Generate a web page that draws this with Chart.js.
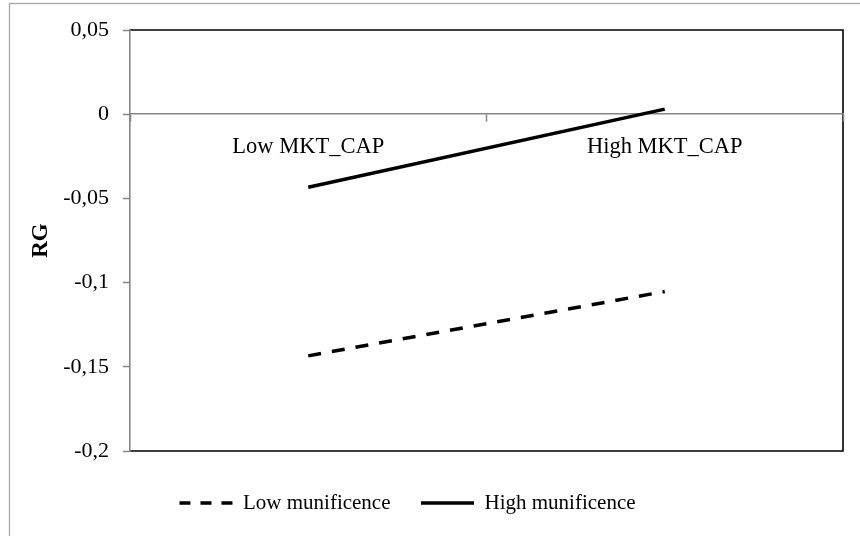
<!DOCTYPE html>
<html>
<head>
<meta charset="utf-8">
<script src="https://cdn.jsdelivr.net/npm/chart.js@4.4.1/dist/chart.umd.min.js"></script>
<style>
  html, body { margin: 0; padding: 0; background: #ffffff; }
  #wrap { width: 860px; height: 536px; }
</style>
</head>
<body>
<div id="wrap"><canvas id="chart" width="860" height="536"></canvas></div>
<script>
// Categories along the horizontal axis
const categories = ['Low MKT_CAP', 'High MKT_CAP'];

// Series values (RG)
const lowMunificence = [-0.1435, -0.1053];
const highMunificence = [-0.0434, 0.003];

// Series names
const seriesNames = ['Low munificence', 'High munificence'];

// Vertical axis range and step
const yMin = -0.2;
const yMax = 0.05;
const yStep = 0.05;

const AXIS_GREY = '#868686';
const SERIF = '"Liberation Serif", "Times New Roman", serif';

Chart.defaults.font.family = SERIF;
Chart.defaults.color = '#000000';

// Outer frame and the dark border round the plot area
const framePlugin = {
  id: 'frame',
  beforeDraw(chart) {
    const { ctx, chartArea: a } = chart;
    ctx.save();
    ctx.fillStyle = '#ffffff';
    ctx.fillRect(0, 0, chart.width, chart.height);
    ctx.strokeStyle = '#a6a6a6';
    ctx.lineWidth = 1.3;
    ctx.strokeRect(9.5, 3.5, chart.width + 20, chart.height + 20);
    ctx.strokeStyle = '#000000';
    ctx.lineWidth = 1.6;
    ctx.beginPath();
    ctx.moveTo(a.left, a.top);
    ctx.lineTo(a.right, a.top);
    ctx.lineTo(a.right, a.bottom);
    ctx.lineTo(a.left, a.bottom);
    ctx.stroke();
    ctx.restore();
  }
};

// Place the legend row below the plot, left of centre
const legendPlacePlugin = {
  id: 'legendPlace',
  afterLayout(chart) {
    const lg = chart.legend;
    if (!lg) return;
    const h = lg.bottom - lg.top;
    lg.left -= 14;
    lg.right -= 14;
    lg.top = 462;
    lg.bottom = lg.top + h;
  }
};

new Chart(document.getElementById('chart'), {
  type: 'line',
  data: {
    labels: categories,
    datasets: [
      {
        label: seriesNames[0],
        data: lowMunificence,
        borderColor: '#000000',
        backgroundColor: '#000000',
        borderWidth: 3.5,
        borderDash: [13, 11],
        borderCapStyle: 'butt',
        pointRadius: 0,
        pointHoverRadius: 0,
        tension: 0,
        fill: false
      },
      {
        label: seriesNames[1],
        data: highMunificence,
        borderColor: '#000000',
        backgroundColor: '#000000',
        borderWidth: 3.5,
        borderCapStyle: 'butt',
        pointRadius: 0,
        pointHoverRadius: 0,
        tension: 0,
        fill: false
      }
    ]
  },
  options: {
    responsive: false,
    animation: false,
    events: [],
    layout: { padding: { left: 0, right: 17, top: 30, bottom: 23.5 } },
    scales: {
      x: {
        type: 'category',
        position: { y: 0 },
        offset: true,
        grid: {
          offset: true,
          drawOnChartArea: false,
          drawTicks: true,
          tickLength: 7,
          tickWidth: 1.5,
          tickColor: AXIS_GREY
        },
        border: { display: true, color: AXIS_GREY, width: 1.6 },
        ticks: {
          padding: 12,
          maxRotation: 0,
          autoSkip: false,
          color: '#000000',
          font: { family: SERIF, size: 22.5 }
        }
      },
      y: {
        position: 'left',
        min: yMin,
        max: yMax,
        afterFit(scale) { scale.width = 130; },
        grid: {
          drawOnChartArea: false,
          drawTicks: true,
          tickLength: 7,
          tickWidth: 1.5,
          tickColor: AXIS_GREY
        },
        border: { display: true, color: AXIS_GREY, width: 1.6 },
        ticks: {
          stepSize: yStep,
          padding: 14,
          color: '#000000',
          font: { family: SERIF, size: 22 },
          callback: (v) => String(+Number(v).toFixed(2)).replace('.', ',')
        },
        title: {
          display: true,
          text: 'RG',
          color: '#000000',
          padding: { top: 27, bottom: 0 },
          font: { family: SERIF, size: 23, weight: 'bold' }
        }
      }
    },
    plugins: {
      tooltip: { enabled: false },
      legend: {
        display: true,
        position: 'bottom',
        labels: {
          usePointStyle: true,
          pointStyleWidth: 53,
          padding: 30.5,
          color: '#000000',
          font: { family: SERIF, size: 21 },
          generateLabels(chart) {
            return chart.data.datasets.map((ds, i) => ({
              text: ds.label,
              datasetIndex: i,
              hidden: false,
              fontColor: '#000000',
              fillStyle: ds.borderColor,
              strokeStyle: ds.borderColor,
              lineWidth: ds.borderWidth,
              // legend sample: three even dashes across the swatch
              lineDash: ds.borderDash ? [11, 10] : [],
              lineCap: 'butt',
              pointStyle: 'line'
            }));
          }
        }
      }
    }
  },
  plugins: [framePlugin, legendPlacePlugin]
});
</script>
</body>
</html>
